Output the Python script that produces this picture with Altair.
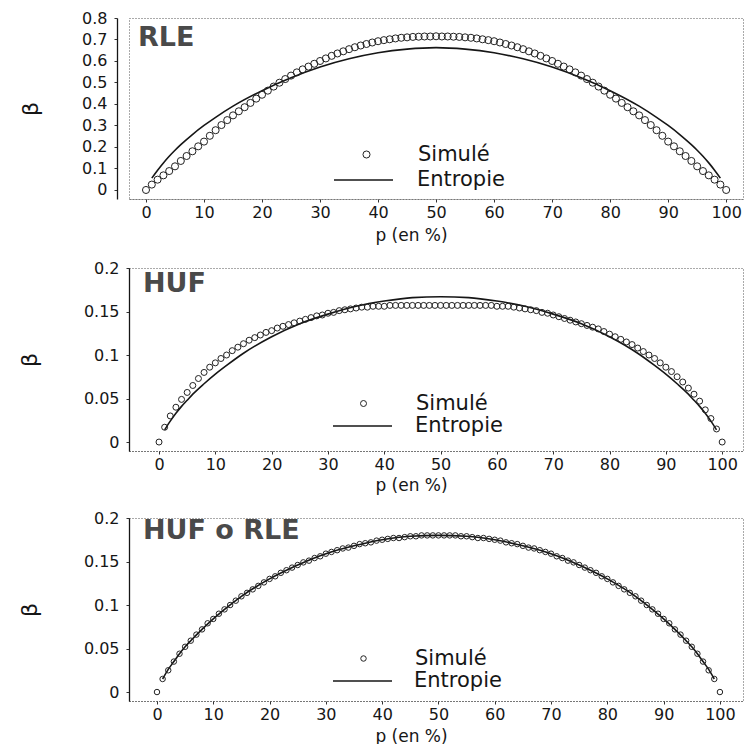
import altair as alt
import pandas as pd

# ---------------- data ----------------
p_sim = list(range(0, 101))

rle_sim = [0.0, 0.025, 0.048, 0.068, 0.088, 0.11, 0.135, 0.158, 0.18, 0.203,
           0.225, 0.252, 0.278, 0.302, 0.325, 0.347, 0.366, 0.385, 0.405, 0.425,
           0.443, 0.462, 0.481, 0.499, 0.516, 0.532, 0.547, 0.561, 0.574, 0.587,
           0.6, 0.612, 0.624, 0.635, 0.645, 0.655, 0.664, 0.672, 0.679, 0.686,
           0.692, 0.697, 0.701, 0.705, 0.708, 0.71, 0.712, 0.713, 0.714, 0.714,
           0.715,
           0.714, 0.714, 0.713, 0.712, 0.71, 0.708, 0.705, 0.701, 0.697, 0.692,
           0.686, 0.679, 0.672, 0.664, 0.655, 0.645, 0.635, 0.624, 0.612, 0.6,
           0.587, 0.574, 0.561, 0.547, 0.532, 0.516, 0.499, 0.481, 0.462, 0.443,
           0.425, 0.405, 0.385, 0.366, 0.347, 0.325, 0.302, 0.278, 0.252, 0.225,
           0.203, 0.18, 0.158, 0.135, 0.11, 0.088, 0.068, 0.048, 0.025, 0.0]

huf_sim = [0.0, 0.017, 0.03, 0.04, 0.049, 0.057, 0.065, 0.073, 0.08, 0.086,
           0.091, 0.096, 0.1, 0.105, 0.109, 0.113, 0.117, 0.12, 0.123, 0.126,
           0.128, 0.131, 0.133, 0.135, 0.137, 0.139, 0.141, 0.143, 0.145, 0.146,
           0.148, 0.149, 0.151, 0.152, 0.153, 0.154, 0.155, 0.155, 0.156, 0.156,
           0.156, 0.157, 0.157, 0.157, 0.157, 0.157, 0.157, 0.157, 0.157, 0.157,
           0.157,
           0.157, 0.157, 0.157, 0.157, 0.157, 0.157, 0.157, 0.157, 0.157, 0.156,
           0.156, 0.156, 0.155, 0.154, 0.153, 0.152, 0.151, 0.149, 0.148, 0.146,
           0.144, 0.142, 0.14, 0.138, 0.136, 0.134, 0.132, 0.13, 0.127, 0.124,
           0.121, 0.118, 0.115, 0.112, 0.108, 0.104, 0.1, 0.096, 0.091, 0.086,
           0.081, 0.075, 0.069, 0.062, 0.055, 0.047, 0.037, 0.027, 0.015, 0.0]

hr_sim = [0.0, 0.015, 0.025, 0.035, 0.044, 0.052, 0.059, 0.066, 0.072, 0.079,
          0.084, 0.09, 0.095, 0.1, 0.105, 0.11, 0.114, 0.118, 0.122, 0.126,
          0.13, 0.133, 0.137, 0.14, 0.143, 0.146, 0.149, 0.151, 0.154, 0.156,
          0.159, 0.161, 0.163, 0.165, 0.166, 0.168, 0.17, 0.171, 0.172, 0.174,
          0.175, 0.176, 0.177, 0.177, 0.178, 0.179, 0.179, 0.18, 0.18, 0.18,
          0.18,
          0.18, 0.18, 0.18, 0.179, 0.179, 0.178, 0.177, 0.177, 0.176, 0.175,
          0.174, 0.172, 0.171, 0.17, 0.168, 0.166, 0.165, 0.163, 0.161, 0.159,
          0.156, 0.154, 0.151, 0.149, 0.146, 0.143, 0.14, 0.137, 0.133, 0.13,
          0.126, 0.122, 0.118, 0.114, 0.11, 0.105, 0.1, 0.095, 0.09, 0.084,
          0.079, 0.072, 0.066, 0.059, 0.052, 0.044, 0.035, 0.025, 0.015, 0.0]

p_ent = [1, 2, 3, 4, 5, 6, 8, 10, 12, 15, 20, 25, 30, 35, 40, 45, 50,
         55, 60, 65, 70, 75, 80, 85, 88, 90, 92, 94, 95, 96, 97, 98, 99]

rle_ent = [0.055, 0.092, 0.126, 0.157, 0.185, 0.211, 0.258, 0.3, 0.338, 0.39,
           0.462, 0.522, 0.572, 0.61, 0.638, 0.655, 0.662,
           0.655, 0.638, 0.61, 0.572, 0.522, 0.462, 0.39, 0.338, 0.3,
           0.258, 0.211, 0.185, 0.157, 0.126, 0.092, 0.055]

huf_ent = [0.014, 0.024, 0.033, 0.041, 0.048, 0.055, 0.067, 0.078, 0.088, 0.102,
           0.121, 0.136, 0.147, 0.156, 0.162, 0.166, 0.167,
           0.166, 0.162, 0.156, 0.147, 0.136, 0.121, 0.102, 0.088, 0.078,
           0.067, 0.055, 0.048, 0.041, 0.033, 0.024, 0.014]

hr_ent = [0.015, 0.026, 0.035, 0.044, 0.052, 0.059, 0.072, 0.084, 0.095, 0.11,
          0.13, 0.146, 0.159, 0.168, 0.175, 0.179, 0.18,
          0.179, 0.175, 0.168, 0.159, 0.146, 0.13, 0.11, 0.095, 0.084,
          0.072, 0.059, 0.052, 0.044, 0.035, 0.026, 0.015]

x_ticks = [0, 10, 20, 30, 40, 50, 60, 70, 80, 90, 100]
y_ticks_rle = [0, 0.1, 0.2, 0.3, 0.4, 0.5, 0.6, 0.7, 0.8]
y_ticks_huf = [0, 0.05, 0.1, 0.15, 0.2]

FONT = "DejaVu Sans"
INK = "#161616"


def panel(name, sim_vals, ent_vals, xdom, ydom, yticks, w, h, y_off, title_pad,
          xtitle_y, legA, legB, pt_size, lab_pos):
    df_sim = pd.DataFrame({"p": p_sim, "beta": sim_vals, "sim": "Simulé"})
    df_ent = pd.DataFrame({"p": p_ent, "beta": ent_vals, "ent": "Entropie"})
    df_lab = pd.DataFrame({"label": [name]})

    x = alt.X("p:Q",
              scale=alt.Scale(domain=xdom, nice=False, zero=False),
              axis=alt.Axis(values=x_ticks, title="p (en %)", format="d",
                            titleX=282, titleY=xtitle_y,
                            titleBaseline="middle", titleAnchor="start",
                            titleAlign="center"))
    y = alt.Y("beta:Q",
              scale=alt.Scale(domain=ydom, nice=False, zero=False),
              axis=alt.Axis(values=yticks, title="β", format="~g",
                            titlePadding=title_pad, offset=y_off,
                            domainDash=[1, 0], domainColor=INK,
                            domainWidth=1.3))

    line = alt.Chart(df_ent).mark_line(
        strokeWidth=1.6, interpolate="monotone"
    ).encode(
        x=x, y=y,
        color=alt.Color("ent:N",
                        scale=alt.Scale(domain=["Entropie"], range=[INK]),
                        legend=alt.Legend(title=None, orient="none",
                                          legendX=legB[0], legendY=legB[1],
                                          symbolType="stroke",
                                          symbolSize=3481,
                                          symbolStrokeWidth=1.6,
                                          labelOffset=legB[2],
                                          labelFontSize=21, labelFont=FONT,
                                          labelColor=INK, padding=0)),
    )

    pts = alt.Chart(df_sim).mark_point(
        filled=False, size=pt_size, strokeWidth=1, color="#222222", opacity=1
    ).encode(
        x=x, y=y,
        shape=alt.Shape("sim:N",
                        scale=alt.Scale(domain=["Simulé"], range=["circle"]),
                        legend=alt.Legend(title=None, orient="none",
                                          legendX=legA[0], legendY=legA[1],
                                          symbolSize=pt_size,
                                          symbolStrokeWidth=1,
                                          symbolStrokeColor="#222222",
                                          symbolFillColor="transparent",
                                          labelOffset=legA[2],
                                          labelFontSize=21, labelFont=FONT,
                                          labelColor=INK, padding=0)),
    )

    label = alt.Chart(df_lab).mark_text(
        align="left", baseline="middle", fontSize=27, fontWeight="bold",
        font=FONT, color="#4a4a4a"
    ).encode(
        x=alt.value(lab_pos[0]), y=alt.value(lab_pos[1]),
        text=alt.Text("label:N"),
    )

    return alt.layer(line, pts, label).resolve_legend(
        color="independent", shape="independent"
    ).properties(width=w, height=h)


p1 = panel("RLE", rle_sim, rle_ent, [-2.93, 102.9], [-0.042, 0.8], y_ticks_rle,
           614, 181, 12, 39.5, 36, (227, 126, 41), (204, 131.5, 23), 50,
           (9, 20))
p2 = panel("HUF", huf_sim, huf_ent, [-5.33, 103.7], [-0.0103, 0.2], y_ticks_huf,
           614, 183, 0, 42, 34, (224, 125, 42), (203, 127.5, 22), 36,
           (14, 16))
p3 = panel("HUF o RLE", hr_sim, hr_ent, [-4.97, 104.1], [-0.0103, 0.2], y_ticks_huf,
           614, 183, 0, 42, 35, (224, 130, 41), (203, 132.5, 21), 30,
           (14, 13))

chart = alt.ConcatChart(
    concat=[p1, p2, p3], columns=1, spacing=15
).resolve_scale(
    color="independent", shape="independent"
).resolve_legend(
    color="independent", shape="independent"
).properties(
    padding={"left": 17, "top": 9, "right": 0, "bottom": 0},
    background="white",
).configure_view(
    stroke="#555555", strokeDash=[1, 2], strokeWidth=1
).configure_axis(
    labelFont=FONT, labelFontSize=16, labelColor=INK,
    titleFont=FONT, titleFontWeight="normal", titleColor=INK,
    tickColor="#333333", tickSize=3, labelPadding=6,
    domainColor="#444444", grid=False,
).configure_axisX(
    domainDash=[1, 2], titleFontSize=17, labelPadding=2,
).configure_axisY(
    titleFontSize=22, labelPadding=7,
)

chart.save("out.html", embed_options={"renderer": "svg", "actions": False})
